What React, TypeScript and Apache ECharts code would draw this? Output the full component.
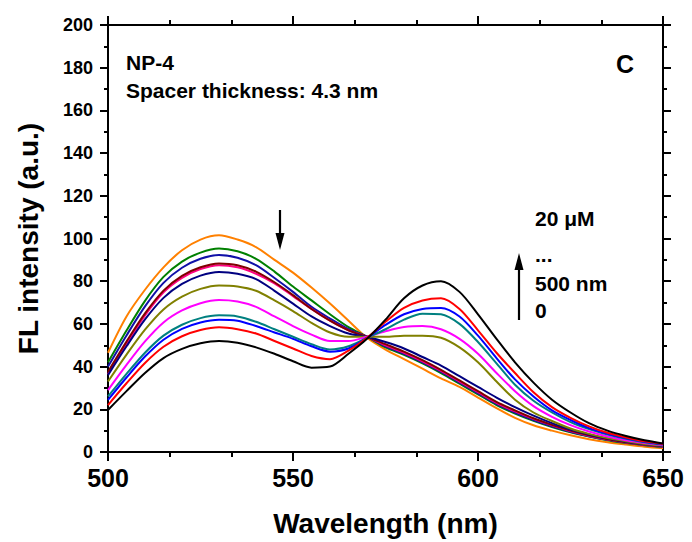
import { useEffect, useRef } from "react";
import * as echarts from "echarts";

const wavelengths = [500, 505, 510, 515, 520, 525, 530, 535, 540, 545, 550, 555, 560, 565, 570, 575, 580, 585, 590, 595, 600, 605, 610, 615, 620, 625, 630, 635, 640, 645, 650];

const black = [19.7, 28.5, 37, 44, 48.3, 50.9, 52, 51.2, 49, 46, 42.5, 39.5, 40, 46, 53, 62, 72, 78, 80, 75, 64.5, 53, 42, 32.5, 24.5, 18.5, 13.5, 10, 7.5, 5.5, 4];
const red = [22, 32.2, 41.7, 49.3, 54.2, 57.1, 58.4, 57.5, 55.5, 52, 48.5, 45, 43.5, 47.5, 53.5, 61, 67.5, 71, 72, 67, 57, 46.5, 37, 28, 21, 16, 12, 9, 6.8, 5, 3.8];
const blue = [24.4, 34.9, 44.7, 52.6, 57.7, 60.7, 62, 61.5, 59, 56, 53, 49.5, 47, 48.5, 53.5, 59.5, 64.5, 67, 67.5, 63.5, 54.5, 44, 34, 26, 19.5, 15, 11.2, 8.5, 6.4, 4.8, 3.6];
const teal = [26, 36.6, 46.5, 54.5, 59.6, 62.7, 64, 63.5, 61, 57.5, 54, 50.5, 48, 49.5, 53.5, 57.5, 62, 64.8, 64.5, 60, 51.5, 41.5, 31.5, 24, 18.5, 14, 10.7, 8.2, 6.2, 4.6, 3.5];
const magenta = [29, 40.8, 51.8, 60.7, 66.3, 69.7, 71.2, 70.5, 68, 63.5, 59, 55, 52, 52, 54, 56.5, 58.5, 59, 57.5, 53, 46, 37, 28.5, 21.5, 16.5, 12.6, 9.6, 7.3, 5.5, 4.2, 3.2];
const olive = [33, 45.6, 57.3, 66.8, 72.8, 76.4, 78, 77.5, 75.5, 71, 66, 60.5, 56, 54, 54, 54, 54.5, 54.5, 53.5, 49, 42, 33, 24.5, 18.5, 14.5, 11, 8.5, 6.5, 5, 3.8, 3];
const navy = [36, 49.5, 62.1, 72.2, 78.7, 82.6, 84.3, 83.5, 81, 75.5, 69.5, 63.5, 59, 55.5, 54, 51.5, 48.5, 44.5, 40.5, 35.5, 30.5, 25.5, 21, 17, 13.5, 10.5, 8.2, 6.3, 4.8, 3.6, 2.8];
const wine = [37.5, 51.7, 64.9, 75.6, 82.5, 86.5, 88.3, 87.5, 84.5, 79.5, 73.5, 67, 61.5, 57, 54, 50.5, 47, 43, 38.5, 33.5, 28.5, 23.5, 19.5, 15.8, 12.7, 10, 7.8, 6, 4.6, 3.5, 2.7];
const pink = [36.5, 50.8, 64, 74.8, 81.6, 85.7, 87.5, 86.5, 83.5, 79, 73, 67, 61.5, 57, 54, 50, 46.5, 42.5, 38, 33, 28, 23, 19, 15.5, 12.5, 9.8, 7.6, 5.9, 4.5, 3.4, 2.6];
const royal = [40, 54.6, 68.2, 79.2, 86.3, 90.5, 92.3, 91, 87.5, 81.5, 75, 68, 62.5, 57.5, 54, 49.5, 46, 42, 37.5, 32.5, 27.5, 22.5, 18.5, 15, 12, 9.5, 7.4, 5.7, 4.4, 3.3, 2.5];
const green = [42, 56.9, 70.8, 82, 89.2, 93.4, 95.3, 94, 90.5, 84.5, 77.5, 71, 64.5, 58.5, 54, 49, 45.5, 41.5, 37, 32, 27, 22, 18, 14.6, 11.7, 9.2, 7.2, 5.5, 4.2, 3.2, 2.4];
const orange = [46.5, 63.5, 76, 86.5, 94.5, 99.5, 101.5, 99.5, 96, 90, 84, 77, 69.5, 61.5, 53.5, 48, 43.5, 39, 34.5, 30.5, 25.5, 20.5, 16, 12.5, 10, 7.8, 6, 4.6, 3.5, 2.5, 1.8];

const curveNames = ["0", "c2", "c3", "c4", "c5", "500 nm", "c7", "c8", "c9", "c10", "c11", "20 μM"];
const curveColors = ["#000000", "#FF0000", "#0000FF", "#008080", "#FF00FF", "#808000", "#000080", "#800000", "#FF0080", "#1010A8", "#008000", "#FF8000"];
const curveData = [black, red, blue, teal, magenta, olive, navy, wine, pink, royal, green, orange];

const FONT = "Arial, 'Liberation Sans', sans-serif";

export default function App() {
  const ref = useRef<HTMLDivElement>(null);
  useEffect(() => {
    if (!ref.current) return;
    const chart = echarts.init(ref.current, undefined, { renderer: "svg" });
    const axisLine = { show: true, onZero: false, lineStyle: { color: "#000", width: 2 } };
    const xCommon = {
      type: "value" as const,
      min: 500,
      max: 650,
      interval: 50,
      axisLine,
      axisTick: { show: true, inside: false, length: 9, lineStyle: { color: "#000", width: 2 } },
      minorTick: { show: true, splitNumber: 3, length: 5, lineStyle: { color: "#000", width: 2 } },
      splitLine: { show: false },
    };
    const yCommon = {
      type: "value" as const,
      min: 0,
      max: 200,
      interval: 20,
      axisLine,
      axisTick: { show: true, inside: false, length: 8, lineStyle: { color: "#000", width: 2 } },
      minorTick: { show: true, splitNumber: 2, length: 4, lineStyle: { color: "#000", width: 2 } },
      splitLine: { show: false },
    };
    const txt = (text: string, x: number, y: number, size: number, align = "left") => ({
      type: "text",
      x,
      y,
      style: {
        text,
        fill: "#000",
        font: `bold ${size}px ${FONT}`,
        textAlign: align,
        textVerticalAlign: "middle",
      },
      z: 100,
    });
    chart.setOption({
      animation: false,
      backgroundColor: "#fff",
      grid: { left: 108, top: 25, right: 29, bottom: 90, containLabel: false },
      xAxis: [
        {
          ...xCommon,
          position: "bottom",
          axisLabel: { show: true, color: "#000", fontSize: 25, fontWeight: "bold", fontFamily: FONT, margin: 13 },
          name: "Wavelength (nm)",
          nameLocation: "middle",
          nameGap: 57,
          nameTextStyle: { color: "#000", fontSize: 28, fontWeight: "bold", fontFamily: FONT },
        },
        { ...xCommon, position: "top", axisLabel: { show: false } },
      ],
      yAxis: [
        {
          ...yCommon,
          position: "left",
          axisLabel: { show: true, color: "#000", fontSize: 18, fontWeight: "bold", fontFamily: FONT, margin: 15 },
          name: "FL intensity (a.u.)",
          nameLocation: "middle",
          nameGap: 66,
          nameTextStyle: { color: "#000", fontSize: 28, fontWeight: "bold", fontFamily: FONT },
        },
        { ...yCommon, position: "right", axisLabel: { show: false } },
      ],
      series: curveData.map((d, i) => ({
        name: curveNames[i],
        type: "line",
        xAxisIndex: 0,
        yAxisIndex: 0,
        data: wavelengths.map((w, j) => [w, d[j]]),
        showSymbol: false,
        smooth: 0.3,
        lineStyle: { color: curveColors[i], width: 2 },
        itemStyle: { color: curveColors[i] },
        z: 10 + (curveData.length - i),
      })),
      graphic: [
        txt("NP-4", 126, 62, 21),
        txt("Spacer thickness: 4.3 nm", 126, 90, 21),
        txt("C", 625, 64, 25, "center"),
        txt("20 μM", 535, 218, 21),
        txt("...", 535, 254, 21),
        txt("500 nm", 535, 283, 21),
        txt("0", 535, 310, 21),
        { type: "line", shape: { x1: 280, y1: 210, x2: 280, y2: 236 }, style: { stroke: "#000", lineWidth: 2.2 }, z: 100 },
        { type: "polygon", shape: { points: [[275.5, 233], [284.5, 233], [280, 250]] }, style: { fill: "#000" }, z: 100 },
        { type: "line", shape: { x1: 519, y1: 320, x2: 519, y2: 267 }, style: { stroke: "#000", lineWidth: 2.2 }, z: 100 },
        { type: "polygon", shape: { points: [[514.5, 270], [523.5, 270], [519, 253]] }, style: { fill: "#000" }, z: 100 },
      ],
    });
    return () => chart.dispose();
  }, []);
  return <div ref={ref} style={{ position: "fixed", left: 0, top: 0, width: 692, height: 542, background: "#fff" }} />;
}
